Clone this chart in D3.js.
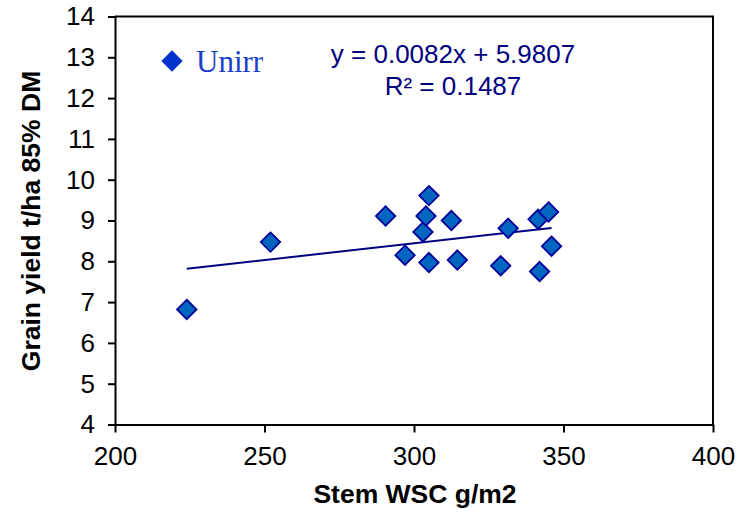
<!DOCTYPE html>
<html>
<head>
<meta charset="utf-8">
<script src="https://cdn.jsdelivr.net/npm/d3@7.9.0/dist/d3.min.js"></script>
<style>
  body { margin: 0; background: #fff; }
  svg { display: block; }
  .tick text { font-family: "Liberation Sans", Arial, sans-serif; font-size: 26px; fill: #000; }
  .title { font-family: "Liberation Sans", Arial, sans-serif; font-size: 26.5px; font-weight: bold; }
</style>
</head>
<body>
<svg width="739" height="512"></svg>
<script>
// data
const stemWSC = [224, 252, 290.5, 297, 303, 304, 305, 305, 312.5, 314.5, 329, 331.5, 341.5, 342, 345, 346];
const grainYield = [6.82, 8.47, 9.11, 8.15, 8.72, 9.11, 9.61, 7.97, 9.0, 8.03, 7.89, 8.81, 9.03, 7.75, 9.21, 8.37];
const xTicks = [200, 250, 300, 350, 400];
const yTicks = [4, 5, 6, 7, 8, 9, 10, 11, 12, 13, 14];
const slope = 0.0082;
const intercept = 5.9807;
const r2 = 0.1487;

const svg = d3.select("svg");
let x = d3.scaleLinear().domain([200, 400]).range([115, 713]);
let y = d3.scaleLinear().domain([4, 14]).range([424.5, 16.5]);

// plot frame (top + right)
svg.append("path")
  .attr("d", `M${x(200)},${y(14)}H${x(400)}V${y(4)}`)
  .attr("fill", "none").attr("stroke", "#000").attr("stroke-width", 2);

let xAxis = svg.append("g")
  .attr("transform", `translate(0,${y(4)})`)
  .call(d3.axisBottom(x).tickValues(xTicks).tickSize(8).tickSizeOuter(0).tickPadding(14));
let yAxis = svg.append("g")
  .attr("transform", `translate(${x(200)},0)`)
  .call(d3.axisLeft(y).tickValues(yTicks).tickSize(7).tickSizeOuter(0).tickPadding(13));
[xAxis, yAxis].forEach((g) => {
  g.select(".domain").attr("stroke", "#000").attr("stroke-width", 2);
  g.selectAll(".tick line").attr("stroke", "#000").attr("stroke-width", 2);
  g.attr("font-family", null).attr("font-size", null);
});

// trend line
let x0 = d3.min(stemWSC), x1 = d3.max(stemWSC);
svg.append("line")
  .attr("x1", x(x0)).attr("y1", y(slope * x0 + intercept))
  .attr("x2", x(x1)).attr("y2", y(slope * x1 + intercept))
  .attr("stroke", "#000080").attr("stroke-width", 2);

// points
let diamond = d3.symbol().type(d3.symbolDiamond2).size(240);
svg.append("g").selectAll("path")
  .data(stemWSC.map((v, i) => [v, grainYield[i]]))
  .join("path")
  .attr("d", diamond)
  .attr("transform", (d) => `translate(${x(d[0])},${y(d[1])})`)
  .attr("fill", "#0066c0").attr("stroke", "#000099").attr("stroke-width", 1.8);

// legend
svg.append("path")
  .attr("d", d3.symbol().type(d3.symbolDiamond2).size(290))
  .attr("transform", "translate(172,61)")
  .attr("fill", "#0033cc");
svg.append("text")
  .attr("x", 196).attr("y", 72)
  .attr("font-family", "Liberation Serif, Times New Roman, serif")
  .attr("font-size", 31).attr("fill", "#1a3fcc")
  .text("Unirr");

// equation
let eq = svg.append("text")
  .attr("font-family", "Liberation Sans, Arial, sans-serif")
  .attr("font-size", 26).attr("fill", "#000080")
  .attr("text-anchor", "middle");
eq.append("tspan").attr("x", 453).attr("y", 63).text(`y = ${slope}x + ${intercept}`);
eq.append("tspan").attr("x", 453).attr("y", 95).text(`R² = ${r2}`);

// axis titles
svg.append("text").attr("class", "title")
  .attr("x", 415).attr("y", 503).attr("text-anchor", "middle")
  .text("Stem WSC g/m2");
svg.append("text").attr("class", "title")
  .attr("transform", "translate(40,221) rotate(-90)").attr("text-anchor", "middle")
  .text("Grain yield t/ha 85% DM");
</script>
</body>
</html>
